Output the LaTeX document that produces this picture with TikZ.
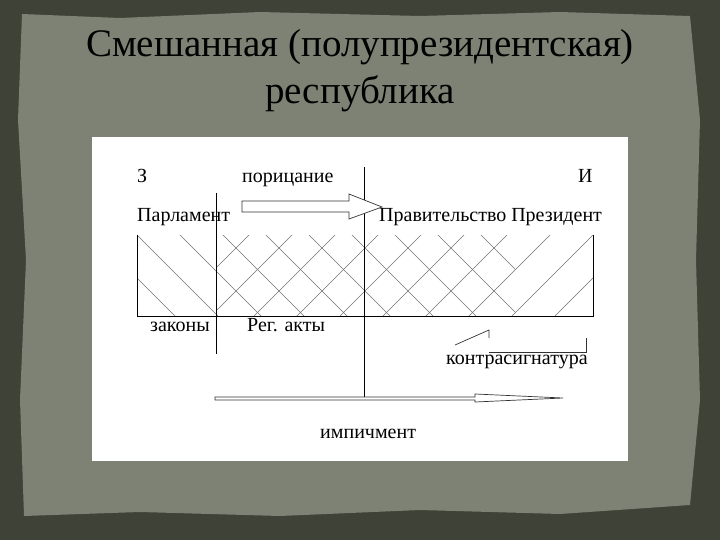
\documentclass[tikz,border=0pt]{standalone}
\usepackage{fontspec}
\setmainfont{Liberation Serif}
\definecolor{edge}{RGB}{62,66,55}
\definecolor{parch}{RGB}{126,130,117}
\begin{document}
\begin{tikzpicture}[x=1pt,y=-1pt]
\tikzstyle{txt}=[inner sep=0pt,anchor=base west,font=\fontsize{20}{24}\selectfont]
\tikzstyle{title}=[inner sep=0pt,anchor=base,text=black,font=\fontsize{39}{47}\selectfont]
\tikzstyle{hatch}=[draw=black!55,line width=0.55pt]
\tikzstyle{frame}=[draw=black,line width=0.9pt]
\tikzstyle{blockarrow}=[draw=black!80,fill=white,line width=0.7pt]
\useasboundingbox (0,0) rectangle (720,540);
\fill[edge] (0,0) rectangle (720,540);
\fill[parch] (22,14) -- (120,18) -- (260,12) -- (420,16) -- (560,12) -- (690,16)
  -- (700,120) -- (696,260) -- (700,400) -- (690,505) -- (560,514) -- (420,510) -- (280,516)
  -- (140,512) -- (24,516) -- (20,400) -- (26,260) -- (18,120) -- cycle;
\node[title] (t1) at (360,57) {Смешанная (полупрезидентская)};
\node[title] (t2) at (360,104) {республика};
\fill[white] (92,137) rectangle (628,461);
\begin{scope}
\clip (137,235) rectangle (515,316);
\foreach \c in {-141,-98,...,246}
  \draw[hatch] (\c+200,200) -- (\c+330,330);
\end{scope}
\begin{scope}
\clip (216,235) rectangle (593,316);
\foreach \d in {484,527,...,871}
  \draw[hatch] (\d-200,200) -- (\d-330,330);
\end{scope}
\coordinate (a) at (137,235);
\coordinate (b) at (137,316);
\coordinate (c) at (593,316);
\coordinate (d) at (593,235);
\draw[frame] (a) -- (b) -- (c) -- (d);
\coordinate (v1) at (216,193);
\coordinate (v2) at (216,354);
\coordinate (w1) at (364,167);
\coordinate (w2) at (364,397);
\draw[frame] (v1) -- (v2);
\draw[frame] (w1) -- (w2);
\draw[blockarrow] (242,201) -- (349,201) -- (349,194) -- (382,207) -- (349,219) -- (349,212) -- (242,212) -- cycle;
\draw[blockarrow] (215,397) -- (475,397) -- (475,394) -- (563,398) -- (475,402) -- (475,400) -- (215,400) -- cycle;
\node[txt] (z) at (137,183) {З};
\node[txt] (por) at (242,183) {порицание};
\node[txt] (i) at (578,183) {И};
\node[txt] (parl) at (137,222) {Парламент};
\node[txt] (prav) at (379,222) {Правительство Президент};
\node[txt] (zak) at (150,331) {законы};
\node[txt] (reg) at (247,331) {Рег. акты};
\node[txt] (kontr) at (446,364) {контрасигнатура};
\node[txt] (imp) at (320,438) {импичмент};
\coordinate (k1) at (489,338);
\coordinate (k2) at (489,330);
\coordinate (k3) at (455,345);
\coordinate (k4) at (489,352);
\coordinate (k5) at (586,352);
\coordinate (k6) at (586,338);
\draw[black!80,line width=0.7pt] (k1) -- (k2) -- (k3);
\draw[black!80,line width=0.7pt] (k4) -- (k5) -- (k6);
\end{tikzpicture}
\end{document}
